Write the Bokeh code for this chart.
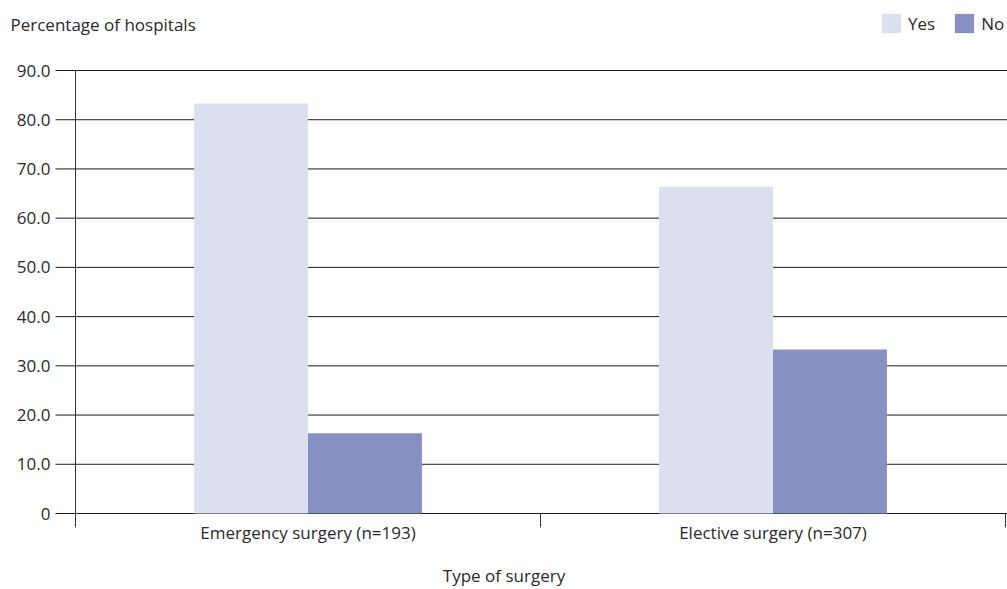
from bokeh.plotting import figure
from bokeh.models import Range1d, FixedTicker, Legend, LegendItem, Label
from bokeh.core.properties import value
from bokeh.embed import file_html
from bokeh.resources import INLINE

# ---- data ----
categories = ["Emergency surgery (n=193)", "Elective surgery (n=307)"]
series_names = ["Yes", "No"]
yes_values = [83.3, 66.4]
no_values = [16.3, 33.3]
y_ticks = [0, 10, 20, 30, 40, 50, 60, 70, 80, 90]
y_tick_labels = ["0", "10.0", "20.0", "30.0", "40.0", "50.0", "60.0", "70.0", "80.0", "90.0"]
y_title = "Percentage of hospitals"
x_title = "Type of surgery"

colors = {"Yes": "#DCDFEE", "No": "#8790C3"}
FONT = "Open Sans"
FS = "17px"
TXT = "#2a2a2a"

# ---- layout geometry (pixels) ----
W, H = 1007, 589
AX_LEFT, AX_RIGHT = 75, 1005     # where the category axis starts / ends
AX_TOP, AX_BOTTOM = 70, 513      # where y = max tick / y = 0 sit
TICK_DOWN = 14                   # category boundary ticks below the axis
n = len(categories)
ymax = y_ticks[-1]
ux = n / (AX_RIGHT - AX_LEFT)    # data units per pixel, x
uy = ymax / (AX_BOTTOM - AX_TOP) # data units per pixel, y

FRAME_BOTTOM = AX_BOTTOM + TICK_DOWN
x_start = -AX_LEFT * ux
x_end = (W - AX_LEFT) * ux
y_start = -TICK_DOWN * uy
y_end = ymax + AX_TOP * uy

bar_w = 0.245
centers = [i + 0.5 for i in range(n)]
yes_x = [c - bar_w / 2 for c in centers]
no_x = [c + bar_w / 2 for c in centers]

p = figure(width=W, height=H, output_backend="svg", toolbar_location=None,
           x_range=Range1d(x_start, x_end), y_range=Range1d(y_start, y_end),
           y_axis_type=None,
           min_border_left=0, min_border_right=0, min_border_top=0,
           min_border_bottom=H - FRAME_BOTTOM)
p.outline_line_color = None
p.background_fill_color = "white"
p.border_fill_color = "white"
p.xgrid.grid_line_color = None

# horizontal gridlines (with the outward tick to the left of the axis); y=0 is the x axis line
tick_len = 20 * ux
p.segment(x0=[-tick_len] * len(y_ticks), y0=y_ticks, x1=[x_end] * len(y_ticks), y1=y_ticks,
          line_color="#1a1a1a", line_width=1)
# y axis line
p.segment(x0=[0], y0=[0], x1=[0], y1=[ymax], line_color="#333333", line_width=1)
# category boundary ticks below the x axis
bounds_x = list(range(n + 1))
p.segment(x0=bounds_x, y0=[0] * len(bounds_x), x1=bounds_x, y1=[y_start] * len(bounds_x),
          line_color="#333333", line_width=1)
# y tick labels
p.text(x=[-25 * ux] * len(y_ticks), y=y_ticks, text=y_tick_labels,
       text_font=value(FONT), text_font_size=value(FS), text_color=TXT,
       text_align="right", text_baseline="middle")

# bars
r_yes = p.vbar(x=yes_x, top=yes_values, width=bar_w, fill_color=colors["Yes"], line_color=None)
r_no = p.vbar(x=no_x, top=no_values, width=bar_w, fill_color=colors["No"], line_color=None)

# x axis: only labels (line and ticks drawn above)
p.xaxis.ticker = FixedTicker(ticks=centers)
p.xaxis.major_label_overrides = {c: lab for c, lab in zip(centers, categories)}
p.xaxis.major_tick_out = 0
p.xaxis.major_tick_in = 0
p.xaxis.minor_tick_out = 0
p.xaxis.minor_tick_in = 0
p.xaxis.minor_tick_line_color = None
p.xaxis.major_tick_line_color = None
p.xaxis.axis_line_color = None
p.xaxis.major_label_standoff = -7
p.xaxis.major_label_text_font = FONT
p.xaxis.major_label_text_font_size = FS
p.xaxis.major_label_text_color = TXT
p.xaxis.axis_label = x_title
p.xaxis.axis_label_standoff = 17
p.xaxis.axis_label_text_font = FONT
p.xaxis.axis_label_text_font_size = FS
p.xaxis.axis_label_text_font_style = "normal"
p.xaxis.axis_label_text_color = TXT

# y title, top-left
p.add_layout(Label(x=(10 - AX_LEFT) * ux, y=ymax + (AX_TOP - 24) * uy, text=y_title,
                   text_font=FONT, text_font_size=FS, text_color=TXT,
                   text_baseline="middle", text_align="left"))

# legend, top-right
legend = Legend(items=[LegendItem(label=series_names[0], renderers=[r_yes]),
                       LegendItem(label=series_names[1], renderers=[r_no])],
                location=(879, FRAME_BOTTOM - 35), orientation="horizontal",
                glyph_width=24, glyph_height=24, label_standoff=5, spacing=17,
                padding=0, margin=0, border_line_color=None, background_fill_alpha=0,
                label_text_font=FONT, label_text_font_size=FS, label_text_color=TXT)
p.add_layout(legend, "center")

open("out.html", "w").write(file_html(p, INLINE))
